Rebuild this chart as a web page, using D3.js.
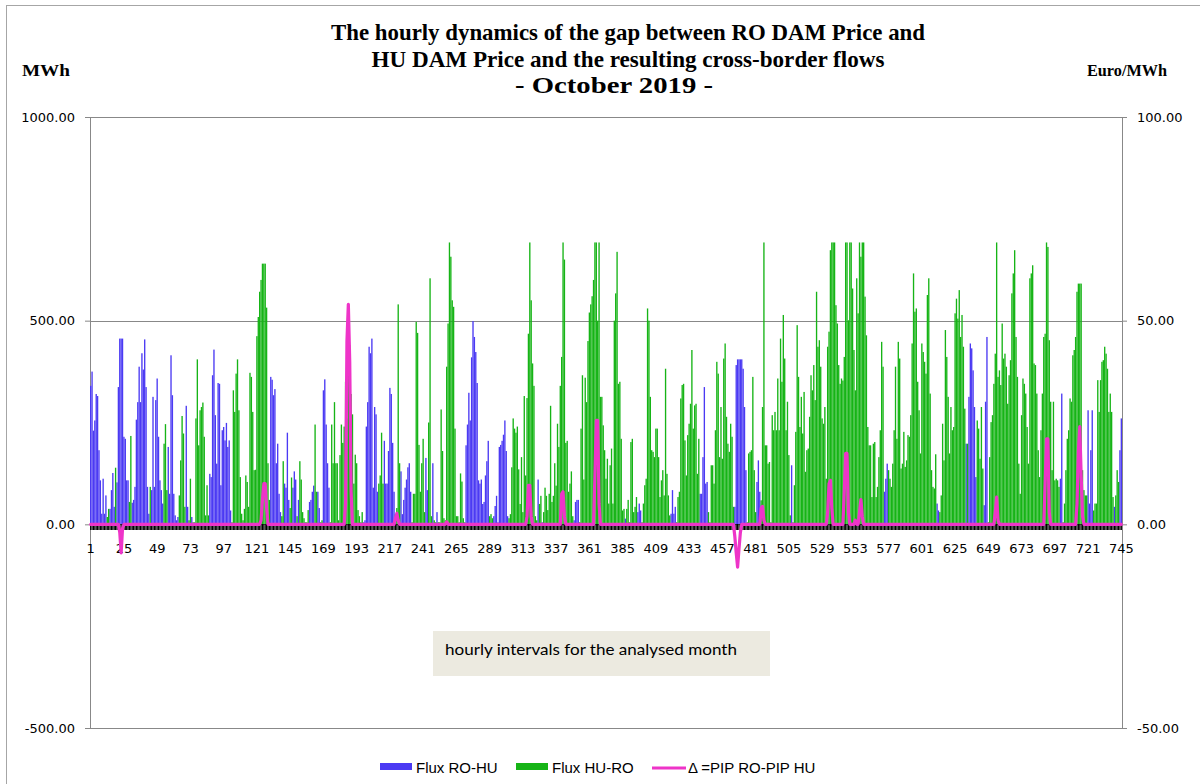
<!DOCTYPE html>
<html>
<head>
<meta charset="utf-8">
<title>RO DAM vs HU DAM price gap and cross-border flows - October 2019</title>
<script src="https://cdn.jsdelivr.net/npm/d3@7"></script>
<style>
    html, body { margin: 0; padding: 0; background: #fff; }
    svg { display: block; }
</style>
</head>
<body>
<svg id="chart" width="1200" height="784"></svg>
<script>
// ---------- Data ---------- //
// one row per day (24 hours), the last day has 25 hours (DST change on 27 Oct)
// Flux RO-HU, MWh
var roHuByDay = [
    [340,375,230,255,320,315,182,108,26,112,26,71,0,0,38,84,126,43,0,103,337,456,456,456],
    [215,210,108,108,0,0,53,60,92,257,300,387,300,420,380,454,337,92,26,0,84,313,92,305],
    [358,215,108,84,51,0,0,0,190,75,415,317,75,22,10,18,0,0,0,0,0,291,43,0],
    [0,18,0,0,0,0,0,0,0,0,0,0,0,0,124,116,366,429,268,149,347,345,96,231],
    [239,206,249,190,206,34,0,0,0,0,0,0,0,0,0,0,0,0,0,0,0,0,0,0],
    [0,0,0,0,0,0,0,0,0,0,362,355,317,332,150,198,75,30,0,0,100,90,225,60],
    [0,0,90,130,110,0,60,0,0,0,0,0,0,0,55,60,80,95,0,0,80,40,0,0],
    [329,356,245,150,90,0,0,0,0,0,0,0,0,0,0,0,0,0,0,0,0,0,0,0],
    [0,0,0,0,0,5,10,240,300,436,420,456,90,288,270,80,0,0,0,0,205,100,100,180],
    [335,320,200,80,25,0,0,0,130,25,60,90,110,140,150,80,0,0,0,0,0,0,0,0],
    [0,0,163,84,0,0,0,150,0,0,30,0,0,0,0,0,0,0,0,0,0,0,0,0],
    [0,0,0,0,0,0,0,194,245,323,255,410,499,460,423,347,108,100,110,50,55,120,155,205],
    [0,0,0,20,45,70,5,190,195,205,220,255,180,20,0,0,0,0,0,0,0,0,0,0],
    [0,0,0,0,0,0,0,0,0,0,0,110,0,0,5,0,0,0,0,0,0,0,0,0],
    [0,0,0,0,0,0,0,0,0,0,0,0,0,10,55,60,60,0,0,0,0,0,0,0],
    [0,0,0,0,0,0,0,0,0,0,0,0,0,0,0,0,0,0,0,0,0,0,0,0],
    [0,0,14,0,0,0,0,0,0,0,0,30,51,34,0,0,0,0,0,0,0,0,0,0],
    [0,0,0,0,0,0,0,0,0,0,0,26,84,26,43,0,0,0,0,0,0,0,0,0],
    [0,0,0,0,0,0,0,0,75,75,165,337,100,104,0,0,0,0,0,0,0,0,0,0],
    [0,0,0,0,0,0,0,0,0,43,391,405,405,405,405,382,288,133,0,0,0,0,0,0],
    [0,104,157,80,0,0,0,0,0,0,0,0,0,0,0,0,0,0,0,0,0,0,0,0],
    [0,0,145,0,0,0,0,0,0,0,0,0,0,0,0,0,0,0,0,0,0,0,0,0],
    [0,0,0,0,0,0,0,0,0,0,0,0,0,0,0,0,0,0,0,0,0,0,0,0],
    [0,0,0,0,0,0,0,0,0,0,0,0,0,0,0,0,0,0,0,0,0,80,112,149],
    [0,0,0,0,0,0,0,0,0,0,0,0,0,0,0,0,0,0,0,0,0,0,0,0],
    [0,0,0,0,0,0,0,0,0,0,0,51,34,0,0,0,0,0,0,0,0,0,0,0],
    [0,0,0,0,0,0,0,0,198,0,313,444,432,378,288,116,0,0,0,0,0,47,301,460],
    [0,0,0,0,0,0,0,0,0,0,0,0,0,0,0,0,0,0,0,0,0,0,0,0],
    [0,0,0,0,0,0,0,0,0,0,0,0,0,0,0,0,0,0,0,0,0,0,0,0],
    [0,0,0,0,112,321,0,0,0,0,0,0,0,0,0,0,0,0,0,0,0,0,0,0],
    [280,51,182,280,0,0,0,0,0,0,0,0,0,0,0,0,0,0,0,43,0,0,0,182,260]
];
// Flux HU-RO, MWh
var huRoByDay = [
    [0,0,0,0,0,0,0,0,0,0,0,0,18,38,0,0,0,0,139,0,0,0,0,0],
    [0,0,0,0,55,217,0,0,0,0,0,0,0,0,0,0,0,0,0,92,0,0,0,0],
    [0,0,0,0,0,198,246,84,0,0,0,0,0,0,0,0,71,157,266,223,43,0,0,10],
    [112,0,5,5,260,405,194,280,288,299,215,22,96,22,0,0,0,0,0,0,0,0,0,0],
    [0,0,0,0,0,0,5,329,276,370,405,280,116,26,10,38,120,104,43,372,362,276,133,134],
    [462,509,571,600,640,640,640,532,150,60,0,0,0,0,0,0,0,0,20,155,0,0,0,0],
    [40,115,0,0,0,20,0,155,110,30,15,5,5,35,0,0,0,0,245,80,0,0,5,10],
    [0,0,0,0,0,5,245,150,300,150,150,10,170,245,200,240,350,260,400,440,320,270,100,171],
    [150,35,20,5,30,0,0,0,0,0,0,0,0,0,0,0,100,120,225,100,0,0,0,0],
    [0,0,0,0,0,40,540,150,0,0,0,0,0,0,0,0,5,75,75,497,470,195,80,150],
    [210,30,0,0,250,604,20,0,10,5,0,5,5,282,180,15,10,387,493,692,657,550,534,235],
    [20,20,5,125,105,15,5,0,0,0,0,0,0,0,0,0,0,0,0,0,0,0,0,0],
    [20,25,15,0,0,0,0,0,0,0,0,0,0,0,15,25,140,260,235,225,240,135,50,165],
    [30,315,120,310,468,692,550,395,340,20,10,0,50,70,0,30,90,70,35,75,291,55,70,150],
    [95,247,190,340,411,692,650,200,205,80,100,130,20,0,0,0,0,5,235,366,110,360,300,450],
    [520,540,560,600,692,692,500,692,313,313,243,182,112,161,51,145,186,51,500,567,669,345,350,210],
    [34,38,0,38,60,5,202,210,30,43,67,0,0,0,5,51,96,112,530,500,313,182,178,165],
    [235,235,165,67,108,133,71,382,124,71,22,0,0,0,0,5,67,80,309,342,345,206,120,219],
    [247,296,428,235,292,296,124,210,0,0,0,0,0,0,30,5,145,145,100,231,399,370,165,288],
    [161,407,444,264,198,178,247,215,43,0,0,0,0,0,0,0,0,0,5,174,178,182,362,133],
    [30,0,0,0,59,288,692,194,194,149,153,5,268,231,276,231,358,231,456,350,514,407,231,301],
    [170,22,0,5,96,227,489,362,239,313,223,325,129,182,186,264,366,329,391,305,571,436,452,387],
    [260,247,288,112,436,473,673,692,692,692,538,493,391,345,358,353,411,692,692,501,692,692,579,428],
    [329,604,518,692,657,692,692,559,464,239,194,194,67,198,202,67,92,165,231,448,387,0,0,0],
    [133,112,92,149,231,387,210,448,407,137,149,227,141,157,219,215,268,444,616,522,530,350,280,174],
    [444,423,399,370,563,604,321,133,92,88,172,0,0,30,71,247,157,477,411,313,174,288,231,239],
    [518,554,505,575,460,514,436,284,0,198,0,0,0,0,0,0,255,235,161,288,137,0,0,0],
    [5,165,251,268,345,419,692,362,378,342,493,407,419,387,296,366,403,567,616,673,460,362,149,75],
    [268,358,345,321,239,149,604,616,636,395,391,321,182,116,231,321,460,468,692,681,452,301,133,301],
    [108,112,108,92,0,0,5,51,133,210,231,309,301,415,428,460,571,591,591,591,133,84,71,71],
    [0,0,0,0,34,51,51,354,276,354,399,403,436,419,382,276,321,276,67,0,71,133,104,0,0]
];
// Delta = PIP RO - PIP HU, Euro/MWh
var deltaByDay = [
    [0,0,0,0,0,0,0,0,0,0,0,0,0,0,0,0,0,0,0,0,0,-2,-7,-1],
    [0,0,0,0,0,0,0,0,0,0,0,0,0,0,0,0,0,0,0,0,0,0,0,0],
    [0,0,0,0,0,0,0,0,0,0,0,0,0,0,0,0,0,0,0,0,0,0,0,0],
    [0,0,0,0,0,0,0,0,0,0,0,0,0,0,0,0,0,0,0,0,0,0,0,0],
    [0,0,0,0,0,0,0,0,0,0,0,0,0,0,0,0,0,0,0,0,0,0,0,0],
    [0,0,0,1,6,10,10,4,0,0,0,0,0,0,0,0,0,0,0,0,0,0,0,0],
    [0,0,0,0,0,0,0,0,0,0,0,0,0,0,0,0,0,0,0,0,0,0,0,0],
    [0,0,0,0,0,0,0,0,0,0,0,0,0,0,0,0,5,45,54,40,8,0,0,0],
    [0,0,0,0,0,0,0,0,0,0,0,0,0,0,0,0,0,0,0,0,0,0,0,0],
    [0,0,0,0,1.5,2.7,1,0,0,0,0,0,0,0,0,0,0,0,0,0,0,0,0,0],
    [0,0,0,0,0,0,0,0,0,0,0,0,0,0,0,0,0,0.6,0,0,0,0,0,0],
    [0,0,0,0,0,0,0,0,0,0,0,0,0,0,0,0,0,0,0,0,0,0,0,0],
    [0,0,0,0,0,0,0,0,0,0,0,0,0,0,0,0,0,0,0,0,0,0,0,0],
    [0,0,0,2,9.6,9.6,2,0,0,0,0,0,0,0,0,0,0,0,0,0,0,0,0,0],
    [0,0,0,0,7.5,8,2,0,0,0,0,0,0,0,0,0,0,0,0,0,0,0,0,0],
    [0,0,0,0,12,25.5,25.5,5,0,0,0,0,0,0,0,0,0,0,0,0,0,0,0,0],
    [0,0,0,0,0,0,0,0,0,0,0,0,0,0,0,0,0,0,0,0,0,0,0,0],
    [0,0,0,0,0,0,0,0,0,0,0,0,0,0,0,0,0,0,0,0,0,0,0,0],
    [0,0,0,0,0,0,0,0,0,0,0,0,0,0,0,0,0,0,0,0,0,0,0,0],
    [0,0,0,0,0,0,0,0,0,-3,-7,-10.5,-6,-2,0,0,0,0,0,0,0,0,0,0],
    [0,0,0,0,4,4.4,1,0,0,0,0,0,0,0,0,0,0,0,0,0,0,0,0,0],
    [0,0,0,0,0,0,0,0,0,0,0,0,0,0,0,0,0,0,0,0,0,0,0,0],
    [0,0,0,0,3,10,10.8,4,0,0,0,0,0,0,0,0,8,17.4,17.4,3,0,0,0,0],
    [1,0,0,3,6.1,2,0,0,0,0,0,0,0,0,0,0,0,0,0,0,0,0,0,0],
    [0,0,0,0,0,0,0,0,0,0,0,0,0,0,0,0,0,0,0,0,0,0,0,0],
    [0,0,0,0,0,0,0,0,0,0,0,0,0,0,0,0,0,0,0,0,0,0,0,0],
    [0,0,0,0,0,0,0,0,0,0,0,0,0,0,0,0,0,0,0,0,0,0,0,0],
    [0,0,0,0,0,3,6.7,1,0,0,0,0,0,0,0,0,0,0,0,0,0,0,0,0],
    [0,0,0,0,0,0,0,0,0,0,0,0,0,0,0,0,0,10,21,21,3,0,0,0],
    [0,0,0,0,0,0,0,0,0,0,0,0,0,0,0,0,5,18,24,12,2,0,0,0],
    [0,0,0,0,0,0,0,0,0,0,0,0,0,0,0,0,0,0,0,0,0,0,0,0,0]
];

var hourLabels = [1,25,49,73,97,121,145,169,193,217,241,265,289,313,337,361,
                  385,409,433,457,481,505,529,553,577,601,625,649,673,697,721,745];
var leftTicks = [-500, 0, 500, 1000];
var rightTicks = [-50, 0, 50, 100];

var titleLines = ['The hourly dynamics of the gap between RO DAM Price and',
                  'HU DAM Price and the resulting cross-border flows',
                  '-  October 2019 -'];

// ---------- Setup ---------- //
var roHu = roHuByDay.flat(),
    huRo = huRoByDay.flat(),
    delta = deltaByDay.flat();
var hours = d3.range(1, roHu.length + 1);
if (huRo.length != roHu.length || delta.length != roHu.length) console.error('length mismatch');

var BLUE = '#4b3af3', GREEN = '#16b416', PINK = '#ee34c8', GRID = '#888888';
var SANS = 'DejaVu Sans, Verdana, sans-serif';
var ARIAL = 'Liberation Sans, Arial, sans-serif';
var SERIF = 'Liberation Serif, Times New Roman, serif';

var svg = d3.select('#chart');
var plot = {left: 90, right: 1122, top: 117, bottom: 728};

var x = d3.scaleBand().domain(hours).range([plot.left, plot.right]).paddingInner(0.03);
var yL = d3.scaleLinear().domain([-500, 1000]).range([plot.bottom, plot.top]);
var yR = d3.scaleLinear().domain([-50, 100]).range([plot.bottom, plot.top]);
var cx = function(h){ return x(h) + x.bandwidth() / 2; };

// outer chart border (only top and left fall inside the picture)
svg.append('rect')
    .attr('x', 6.5).attr('y', 5.5).attr('width', 1300).attr('height', 900)
    .attr('fill', 'none').attr('stroke', '#a6a6a6');

// ---------- Titles ---------- //
svg.selectAll('text.title').data(titleLines).join('text')
    .attr('class', 'title')
    .attr('x', function(d, i){ return i < 2 ? 628 : 614; })
    .attr('y', function(d, i){ return [40, 67, 93][i]; })
    .attr('text-anchor', 'middle')
    .attr('textLength', function(d, i){ return [594, 513, 198][i]; })
    .attr('lengthAdjust', 'spacingAndGlyphs')
    .style('font-family', SERIF).style('font-weight', 'bold').style('font-size', '23px')
    .text(function(d){ return d; });

svg.append('text').attr('x', 22).attr('y', 76)
    .attr('textLength', 48).attr('lengthAdjust', 'spacingAndGlyphs')
    .style('font-family', SERIF).style('font-weight', 'bold').style('font-size', '17px')
    .text('MWh');
svg.append('text').attr('x', 1087).attr('y', 76)
    .attr('textLength', 80).attr('lengthAdjust', 'spacingAndGlyphs')
    .style('font-family', SERIF).style('font-weight', 'bold').style('font-size', '17px')
    .text('Euro/MWh');

// ---------- Grid and axes ---------- //
svg.append('g').selectAll('line').data([1000, 500, -500]).join('line')
    .attr('x1', plot.left).attr('x2', plot.right)
    .attr('y1', function(d){ return Math.round(yL(d)) + 0.5; })
    .attr('y2', function(d){ return Math.round(yL(d)) + 0.5; })
    .attr('stroke', GRID);

var leftAxis = svg.append('g')
    .attr('transform', 'translate(' + plot.left + ',0)')
    .call(d3.axisLeft(yL).tickValues(leftTicks).tickSize(5).tickSizeOuter(0).tickPadding(10)
        .tickFormat(function(d){ return d.toFixed(2); }));
var rightAxis = svg.append('g')
    .attr('transform', 'translate(' + plot.right + ',0)')
    .call(d3.axisRight(yR).tickValues(rightTicks).tickSize(5).tickSizeOuter(0).tickPadding(10)
        .tickFormat(function(d){ return d.toFixed(2); }));
[leftAxis, rightAxis].forEach(function(g){
    g.selectAll('path, line').attr('stroke', GRID);
    g.selectAll('text').attr('fill', '#000')
        .style('font-family', SANS).style('font-size', '13px');
});

// ---------- Bars ---------- //
svg.append('g').selectAll('rect')
    .data(hours.filter(function(h){ return roHu[h - 1] > 0; })).join('rect')
    .attr('x', function(h){ return x(h); })
    .attr('width', x.bandwidth())
    .attr('y', function(h){ return yL(roHu[h - 1]); })
    .attr('height', function(h){ return yL(0) - yL(roHu[h - 1]); })
    .attr('fill', BLUE);

svg.append('g').selectAll('rect')
    .data(hours.filter(function(h){ return huRo[h - 1] > 0; })).join('rect')
    .attr('x', function(h){ return x(h); })
    .attr('width', x.bandwidth())
    .attr('y', function(h){ return yL(huRo[h - 1]); })
    .attr('height', function(h){ return yL(0) - yL(huRo[h - 1]); })
    .attr('fill', GREEN);

// ---------- Category axis at zero, one tick per hour ---------- //
var xAxis = svg.append('g')
    .attr('transform', 'translate(0,' + Math.round(yL(0)) + ')')
    .call(d3.axisBottom(x).tickValues(hours).tickSize(6).tickSizeOuter(0).tickFormat(''));
xAxis.select('path').attr('stroke', GRID);
xAxis.selectAll('line').attr('stroke', '#000').attr('stroke-width', 1.2);

svg.append('g').selectAll('text').data(hourLabels).join('text')
    .attr('x', function(h){ return cx(h); })
    .attr('y', 553)
    .attr('text-anchor', 'middle')
    .style('font-family', SANS).style('font-size', '13px')
    .text(function(h){ return h; });

// ---------- Delta line ---------- //
var line = d3.line()
    .x(function(h){ return cx(h); })
    .y(function(h){ return yR(delta[h - 1]); });
svg.append('path').datum(hours)
    .attr('d', line)
    .attr('fill', 'none').attr('stroke', PINK).attr('stroke-width', 3.2)
    .attr('stroke-linejoin', 'round').attr('stroke-linecap', 'round');

// ---------- Note box ---------- //
svg.append('rect').attr('x', 433).attr('y', 631).attr('width', 337).attr('height', 45)
    .attr('fill', '#eceae0');
svg.append('text').attr('x', 445).attr('y', 655)
    .attr('textLength', 292).attr('lengthAdjust', 'spacingAndGlyphs')
    .style('font-family', 'Lato, Open Sans, sans-serif').style('font-size', '15px')
    .text('hourly intervals for the analysed month');

// ---------- Legend ---------- //
var legend = svg.append('g');
legend.append('rect').attr('x', 380).attr('y', 763).attr('width', 32).attr('height', 7).attr('fill', BLUE);
legend.append('rect').attr('x', 516).attr('y', 763).attr('width', 32).attr('height', 7).attr('fill', GREEN);
legend.append('line').attr('x1', 652).attr('x2', 686).attr('y1', 768).attr('y2', 768)
    .attr('stroke', PINK).attr('stroke-width', 3);
[[416, 'Flux RO-HU'], [552, 'Flux HU-RO'], [688, '\u0394 =PIP RO-PIP HU']].forEach(function(d){
    legend.append('text').attr('x', d[0]).attr('y', 773)
        .style('font-family', ARIAL).style('font-size', '15px')
        .text(d[1]);
});
</script>
</body>
</html>
